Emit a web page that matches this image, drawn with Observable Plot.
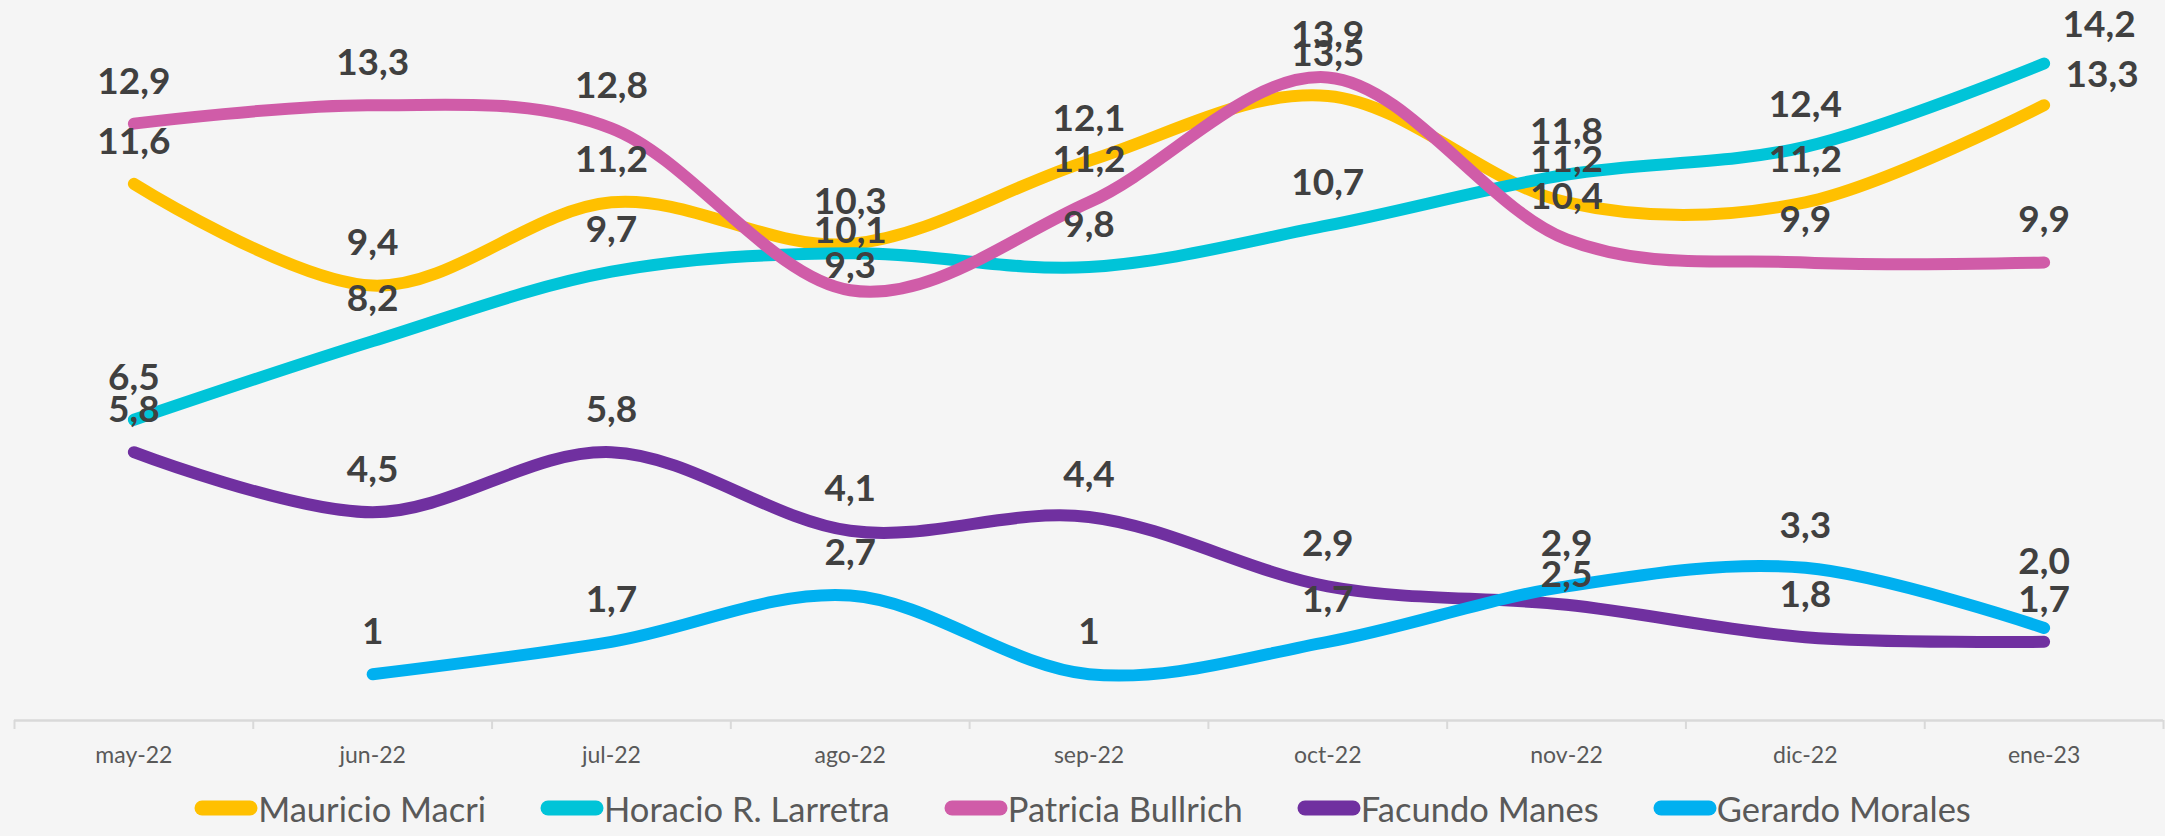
<!DOCTYPE html>
<html>
<head>
<meta charset="utf-8">
<script src="https://cdn.jsdelivr.net/npm/d3@7"></script>
<script src="https://cdn.jsdelivr.net/npm/@observablehq/plot@0.6"></script>
<style>
  html, body { margin: 0; padding: 0; background: #f5f5f5; }
  #chart svg { display: block; background: #f5f5f5; }
  #legend { display: flex; justify-content: center; align-items: center; gap: 54px; height: 56px;
            font-family: Lato, "Open Sans", sans-serif; font-size: 34.5px; color: #595959; }
  #legend .item { display: flex; align-items: center; }
  #legend svg { display: block; }
</style>
</head>
<body>
<div id="chart"></div>
<div id="legend"></div>
<script>
const months = ["may-22","jun-22","jul-22","ago-22","sep-22","oct-22","nov-22","dic-22","ene-23"];
const seriesNames = ["Mauricio Macri","Horacio R. Larretra","Patricia Bullrich","Facundo Manes","Gerardo Morales"];
const seriesColors = ["#FFC000","#00C4D8","#D05CA8","#7030A0","#00B0F0"];

const macri    = [11.6, 9.4, 11.2, 10.3, 12.1, 13.5, 11.2, 11.2, 13.3];
const larreta  = [6.5, 8.2, 9.7, 10.1, 9.8, 10.7, 11.8, 12.4, 14.2];
const bullrich = [12.9, 13.3, 12.8, 9.3, 11.2, 13.9, 10.4, 9.9, 9.9];
const manes    = [5.8, 4.5, 5.8, 4.1, 4.4, 2.9, 2.5, 1.8, 1.7];
const morales  = [null, 1, 1.7, 2.7, 1, 1.7, 2.9, 3.3, 2.0];
const moralesText = [null, "1", "1,7", "2,7", "1", "1,7", "2,9", "3,3", "2,0"];

const allValues = [macri, larreta, bullrich, manes, morales];
const fmt = v => v.toFixed(1).replace(".", ",");

const rows = [];
allValues.forEach((vals, s) => {
  vals.forEach((v, i) => {
    if (v == null) return;
    rows.push({
      serie: seriesNames[s], s, i, month: months[i], value: v,
      label: s === 4 ? moralesText[i] : fmt(v)
    });
  });
});

// label nudges (style only): [series index, month index, dx, dy]
const nudges = [
  [1, 3, 0, 20], [2, 3, 0, 18], [3, 6, 0, 12],
  [1, 8, 55, 4], [0, 8, 58, 12], [4, 8, 0, -24]
];
const isNudged = d => nudges.some(n => n[0] === d.s && n[1] === d.i);

const labelStyle = {
  x: "i", y: "value", text: "label",
  fontFamily: "Lato, 'Open Sans', sans-serif", fontWeight: "bold", fontSize: 37,
  fill: "#404040", lineAnchor: "middle"
};

const marks = [
  Plot.ruleY([0], {stroke: "#d9d9d9", strokeWidth: 2.5}),
  Plot.axisX(d3.range(-0.5, 9, 1), {tickSize: 9, tickFormat: () => "", label: null, stroke: "#d9d9d9", strokeWidth: 2}),
  Plot.axisX(d3.range(0, 9), {tickSize: 0, tickPadding: 26, tickFormat: i => months[i], label: null,
    fontSize: 23, fill: "#595959", fontFamily: "Lato, 'Open Sans', sans-serif"}),
  ...seriesNames.map(name => Plot.line(rows.filter(d => d.serie === name), {
    x: "i", y: "value", stroke: "serie", curve: "cardinal",
    strokeWidth: 12, strokeLinecap: "round", strokeLinejoin: "round"
  })),
  Plot.text(rows.filter(d => !isNudged(d)), {...labelStyle, dy: -42}),
  ...nudges.map(([s, i, dx, dy]) => Plot.text(rows.filter(d => d.s === s && d.i === i), {...labelStyle, dx, dy: -42 + dy}))
];

const chart = Plot.plot({
  width: 2165,
  height: 780,
  marginLeft: 14,
  marginRight: 2,
  marginTop: 26,
  marginBottom: 60,
  x: {type: "linear", domain: [-0.5, 8.5], axis: null, label: null},
  y: {domain: [0, 15], axis: null, label: null},
  color: {domain: seriesNames, range: seriesColors},
  style: {background: "#f5f5f5", fontFamily: "Lato, 'Open Sans', sans-serif"},
  marks
});
document.getElementById("chart").appendChild(chart);

const legend = document.getElementById("legend");
seriesNames.forEach((name, k) => {
  const item = document.createElement("div");
  item.className = "item";
  item.innerHTML = `<svg width="64" height="18"><line x1="8" y1="9" x2="56" y2="9" stroke="${seriesColors[k]}" stroke-width="15" stroke-linecap="round"/></svg><span>${name}</span>`;
  legend.appendChild(item);
});
</script>
</body>
</html>
